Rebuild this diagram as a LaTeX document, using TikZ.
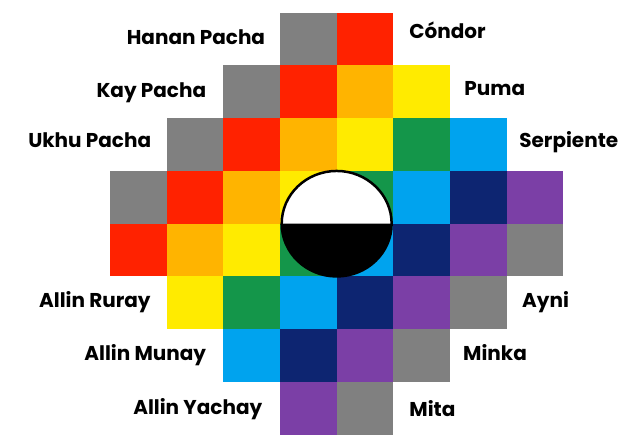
\documentclass[tikz,border=0pt]{standalone}
\usepackage{fontspec}
\setmainfont{Poppins}
\definecolor{c0}{HTML}{808080}
\definecolor{c1}{HTML}{FF2200}
\definecolor{c2}{HTML}{FFB400}
\definecolor{c3}{HTML}{FFEB00}
\definecolor{c4}{HTML}{14964A}
\definecolor{c5}{HTML}{00A3EE}
\definecolor{c6}{HTML}{0D2571}
\definecolor{c7}{HTML}{7B3FA6}
\definecolor{c8}{HTML}{808080}
\tikzset{
  lbl/.style={font=\bfseries\fontsize{20}{24}\selectfont, inner sep=0pt},
  leftlbl/.style={lbl, anchor=mid east},
  rightlbl/.style={lbl, anchor=mid west}
}
\begin{document}
\begin{tikzpicture}[x=56.67pt, y=-52.75pt]

        \useasboundingbox[fill=white] (-1.941,-0.241) rectangle (9.106,8.100);

        % 方格
        \foreach \r/\a/\b in {0/3/4,1/2/5,2/1/6,3/0/7,4/0/7,5/1/6,6/2/5,7/3/4}{
          \foreach \c in {\a,...,\b}{
            \pgfmathtruncatemacro\k{\c+\r-3}
            \fill[c\k] (\c,\r) rectangle ++(1,1);
          }
        }

        % 圆
        \fill[white] (4,4) ellipse [x radius=0.97, y radius=1];
        \fill[black] (4.97,4) arc [start angle=0, end angle=180, x radius=0.97, y radius=1] -- cycle;
        \draw[line width=2.5pt] (4,4) ellipse [x radius=0.97, y radius=1];

        % 左侧
        \node[leftlbl] (hanan) at (2.74,0.55) {Hanan Pacha};
        \node[leftlbl] (kay) at (1.70,1.55) {Kay Pacha};
        \node[leftlbl] (ukhu) at (0.73,2.50) {Ukhu Pacha};
        \node[leftlbl] (ruray) at (0.72,5.53) {Allin Ruray};
        \node[leftlbl] (munay) at (1.70,6.54) {Allin Munay};
        \node[leftlbl] (yachay) at (2.69,7.56) {Allin Yachay};

        % 右侧
        \node[rightlbl] (condor) at (5.28,0.43) {Cóndor};
        \node[rightlbl] (puma) at (6.25,1.51) {Puma};
        \node[rightlbl] (serp) at (7.22,2.50) {Serpiente};
        \node[rightlbl] (ayni) at (7.27,5.53) {Ayni};
        \node[rightlbl] (minka) at (6.23,6.54) {Minka};
        \node[rightlbl] (mita) at (5.28,7.60) {Mita};
    \end{tikzpicture}
\end{document}
